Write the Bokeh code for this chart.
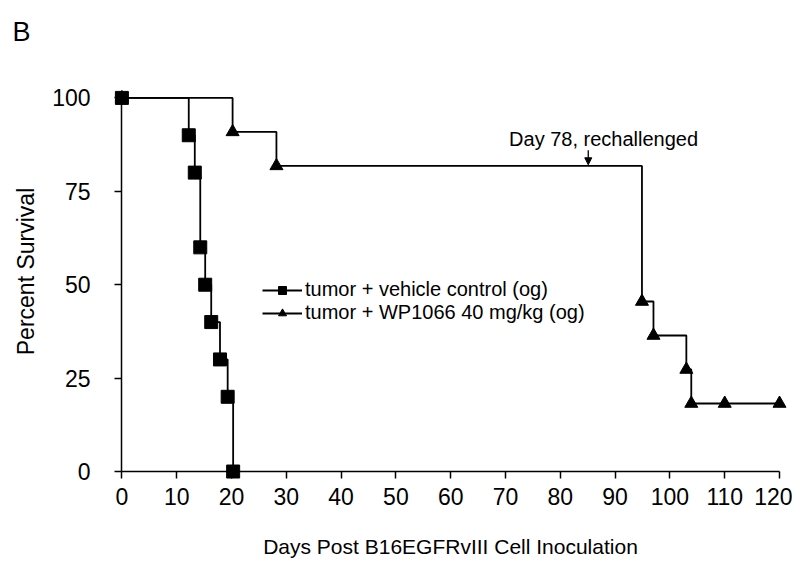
from bokeh.plotting import figure
from bokeh.models import (Range1d, FixedTicker, Legend, LegendItem, Label, Arrow, NormalHead,
                          LinearAxis, CustomJSTickFormatter)
from bokeh.embed import file_html
from bokeh.resources import INLINE

# ---- data ----
vehicle_days = [0, 12.2, 13.3, 14.3, 15.2, 16.3, 17.9, 19.3, 20.3]
vehicle_surv = [100, 90, 80, 60, 50, 40, 30, 20, 0]
wp_days = [0, 20.2, 28.2, 94.9, 97.0, 103.0, 103.9, 110.0, 120.0]
wp_surv = [100, 90.9, 81.8, 45.5, 36.4, 27.3, 18.2, 18.2, 18.2]

x_ticks = [0, 10, 20, 30, 40, 50, 60, 70, 80, 90, 100, 110, 120]
y_ticks = [0, 25, 50, 75, 100]

vehicle_label = "tumor + vehicle control (og)"
wp_label = "tumor + WP1066 40 mg/kg (og)"
x_title = "Days Post B16EGFRvIII Cell Inoculation"
y_title = "Percent Survival"
note_text = "Day 78, rechallenged"
note_day = 85.1
note_level = 81.8
panel_letter = "B"

FONT = "Liberation Sans"

p = figure(width=792, height=560, output_backend="svg", toolbar_location=None,
           x_range=Range1d(-2.445, 122.37), y_range=Range1d(-2.94, 110.01),
           min_border_left=108, min_border_right=0, min_border_top=60,
           min_border_bottom=77)
p.outline_line_color = None
p.xgrid.visible = False
p.ygrid.visible = False
p.background_fill_color = "white"
p.border_fill_color = "white"

# panel axes: labels and titles only
for ax in (p.xaxis[0], p.yaxis[0]):
    ax.axis_line_color = None
    ax.major_tick_line_color = None
    ax.minor_tick_line_color = None
    ax.major_tick_in = 0
    ax.major_tick_out = 0
    ax.minor_tick_in = 0
    ax.minor_tick_out = 0
    ax.major_label_text_font = FONT
    ax.major_label_text_font_size = "23px"
    ax.major_label_text_color = "black"
    ax.axis_label_text_font = FONT
    ax.axis_label_text_font_style = "normal"
    ax.axis_label_text_color = "black"
p.xaxis.ticker = FixedTicker(ticks=x_ticks)
p.yaxis.ticker = FixedTicker(ticks=y_ticks)
p.xaxis.axis_label = x_title
p.yaxis.axis_label = y_title
p.xaxis.axis_label_text_font_size = "21px"
p.yaxis.axis_label_text_font_size = "23px"
p.xaxis.major_label_standoff = 5
p.yaxis.major_label_standoff = 18
p.xaxis.axis_label_standoff = 27
p.yaxis.axis_label_standoff = 10

# axis lines and ticks drawn through the data origin
blank = CustomJSTickFormatter(code="return ''")
for side, ticks, bnds in (("below", x_ticks, (x_ticks[0], x_ticks[-1])),
                          ("left", y_ticks, (y_ticks[0], y_ticks[-1]))):
    ax = LinearAxis(fixed_location=0, ticker=FixedTicker(ticks=ticks), bounds=bnds,
                    formatter=blank, axis_line_color="black", axis_line_width=1.5,
                    major_tick_line_color="black", major_tick_line_width=1.5,
                    major_tick_in=0, major_tick_out=7, minor_tick_line_color=None,
                    major_label_text_font_size="0px")
    p.add_layout(ax, side)

# curves
wp_line = p.step(wp_days, wp_surv, mode="after", line_color="black", line_width=1.8)
wp_pts = p.scatter(wp_days, wp_surv, marker="triangle", size=13, fill_color="black",
                   line_color="black")
veh_line = p.step(vehicle_days, vehicle_surv, mode="after", line_color="black", line_width=1.8)
veh_pts = p.scatter(vehicle_days, vehicle_surv, marker="square", size=13, fill_color="black",
                    line_color="black")

legend = Legend(items=[LegendItem(label=vehicle_label, renderers=[veh_line, veh_pts]),
                       LegendItem(label=wp_label, renderers=[wp_line, wp_pts])],
                location=(154, 158), orientation="vertical",
                glyph_width=40, glyph_height=20, label_standoff=3, spacing=-3,
                padding=0, margin=0, background_fill_alpha=0, border_line_color=None,
                label_text_font=FONT, label_text_font_size="20px", label_text_color="black")
p.add_layout(legend)

# annotation
p.add_layout(Arrow(x_start=note_day, y_start=86.0, x_end=note_day, y_end=note_level + 0.3,
                   line_color="black", line_width=1.3,
                   end=NormalHead(size=7, fill_color="black", line_color="black")))
p.add_layout(Label(x=87.9, y=88.9, text=note_text, text_align="center",
                   text_baseline="alphabetic", text_font=FONT, text_font_size="20px",
                   text_color="black"))

# panel letter as the plot title
p.title.text = panel_letter
p.title.align = "left"
p.title.offset = -96
p.title.standoff = 28
p.title.text_font = FONT
p.title.text_font_size = "27px"
p.title.text_font_style = "normal"
p.title.text_color = "black"

open("out.html", "w").write(file_html(p, INLINE))
